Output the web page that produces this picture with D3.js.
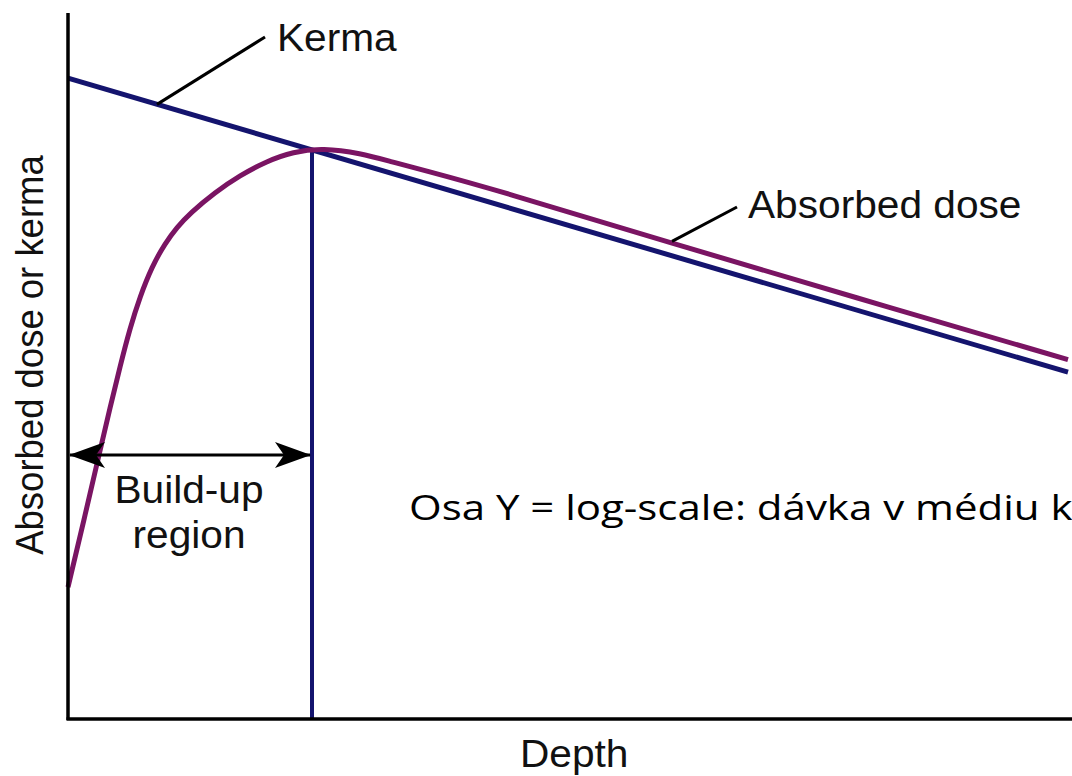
<!DOCTYPE html>
<html lang="en">
    <head>
        <meta charset="utf-8">
        <title>Absorbed dose and kerma vs depth</title>
        <script type="text/javascript" src="https://d3js.org/d3.v7.min.js"></script>
        <style>
            body { margin: 0; background: #fff; }
            text { font-family: "Liberation Sans", Arial, sans-serif; fill: #111; }
        </style>
    </head>

    <body>

        <script type="text/javascript">

            var w = 1072;
            var h = 776;

            // depth in relative units (0..100), dose in relative units
            var kermaDepth = [0, 100];
            var kermaValue = [91.4, 49.4];

            var doseDepth = [0, 1.6, 3.2, 4.2, 5.2, 6.2, 7.2, 8.4, 9.7, 10.9, 12.2, 14.7, 17.2, 19.8, 22.5, 25.5, 29.2, 32.5, 35.2, 43.2, 60.4, 78.2, 100];
            var doseValue = [18.7, 28.3, 38.2, 44.3, 50.2, 55.7, 60.2, 64.5, 67.8, 70.1, 72.1, 75.1, 77.5, 79.5, 80.9, 81.4, 80.7, 79.4, 78.4, 75.3, 67.8, 60.3, 51.2];

            var buildUpDepth = 24.4;   // end of build-up region (kerma = dose)

            var kermaColor = "#14146e";
            var doseColor = "#7a1463";

            // Scales
            var xScale = d3.scaleLinear()
                .domain([0, 100])
                .range([68, 1068]);

            var yScale = d3.scaleLinear()
                .domain([0, 100])
                .range([718, 18]);

            var svg = d3.select("body")
                .append("svg")
                .attr("width", w)
                .attr("height", h);

            svg.append("rect")
                .attr("width", w)
                .attr("height", h)
                .attr("fill", "#fff");

            // arrow marker for build-up region
            var defs = svg.append("defs");
            defs.append("marker")
                .attr("id", "arr")
                .attr("viewBox", "0 0 36 28")
                .attr("refX", 35)
                .attr("refY", 14)
                .attr("markerWidth", 36)
                .attr("markerHeight", 28)
                .attr("markerUnits", "userSpaceOnUse")
                .attr("orient", "auto-start-reverse")
                .append("path")
                .attr("d", "M0,1 L36,14 L0,27 L9,14 Z")
                .attr("fill", "#000");

            var kerma = kermaDepth.map(function(d, i) { return [d, kermaValue[i]]; });
            var dose = doseDepth.map(function(d, i) { return [d, doseValue[i]]; });

            var kermaAt = d3.scaleLinear().domain(kermaDepth).range(kermaValue);

            var line = d3.line()
                .x(function(d) { return xScale(d[0]); })
                .y(function(d) { return yScale(d[1]); });

            // vertical line at end of build-up region
            svg.append("line")
                .attr("x1", xScale(buildUpDepth))
                .attr("x2", xScale(buildUpDepth))
                .attr("y1", yScale(kermaAt(buildUpDepth)))
                .attr("y2", yScale(0))
                .attr("stroke", kermaColor)
                .attr("stroke-width", 4);

            // Kerma line
            svg.append("path")
                .datum(kerma)
                .attr("d", line)
                .attr("fill", "none")
                .attr("stroke", kermaColor)
                .attr("stroke-width", 5);

            // Absorbed dose curve
            svg.append("path")
                .datum(dose)
                .attr("d", line.curve(d3.curveBasis))
                .attr("fill", "none")
                .attr("stroke", doseColor)
                .attr("stroke-width", 5);

            // Axes (plain lines, no ticks)
            svg.append("line")
                .attr("x1", xScale(0)).attr("x2", xScale(0))
                .attr("y1", 13).attr("y2", yScale(0) + 2)
                .attr("stroke", "#000").attr("stroke-width", 3.5);
            svg.append("line")
                .attr("x1", xScale(0) - 1.5).attr("x2", w)
                .attr("y1", yScale(0) + 1).attr("y2", yScale(0) + 1)
                .attr("stroke", "#000").attr("stroke-width", 3.5);

            // Build-up region arrow
            var arrowY = 455;
            svg.append("line")
                .attr("x1", xScale(0) + 2)
                .attr("x2", xScale(buildUpDepth) - 2)
                .attr("y1", arrowY).attr("y2", arrowY)
                .attr("stroke", "#000").attr("stroke-width", 3)
                .attr("marker-start", "url(#arr)")
                .attr("marker-end", "url(#arr)");

            // horizontal labels are a bit wide in the original
            function label(x, y, txt, anchor) {
                return svg.append("text")
                    .attr("transform", "translate(" + x + "," + y + ") scale(1.07,1)")
                    .attr("text-anchor", anchor || "start")
                    .attr("font-size", 38)
                    .text(txt);
            }

            label(189, 503, "Build-up", "middle");
            label(189, 548, "region", "middle");

            // Kerma label + leader
            svg.append("line")
                .attr("x1", xScale(8.9)).attr("y1", yScale(kermaAt(8.9)))
                .attr("x2", 265).attr("y2", 37)
                .attr("stroke", "#000").attr("stroke-width", 3);
            label(277, 51, "Kerma");

            // Absorbed dose label + leader
            svg.append("line")
                .attr("x1", xScale(60.4)).attr("y1", yScale(67.8) - 2)
                .attr("x2", 737).attr("y2", 207)
                .attr("stroke", "#000").attr("stroke-width", 3);
            label(748, 218, "Absorbed dose");

            // Axis titles
            svg.append("text")
                .attr("transform", "translate(43,355) rotate(-90) scale(1,1.07)")
                .attr("text-anchor", "middle")
                .attr("font-size", 36.5)
                .text("Absorbed dose or kerma");

            label(520, 767, "Depth");

            // note
            svg.append("text")
                .attr("transform", "translate(409,520) scale(1.2,1)")
                .attr("font-size", 35)
                .style("font-family", "'Open Sans', 'Noto Sans', sans-serif")
                .style("fill", "#000")
                .text("Osa Y = log-scale: dávka v médiu k");

        </script>
    </body>
</html>
